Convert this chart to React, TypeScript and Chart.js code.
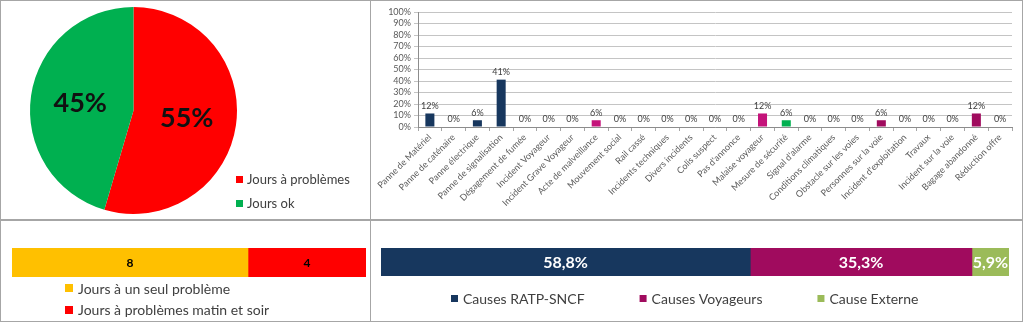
import React, { useEffect, useRef } from "react";
import { Chart, registerables } from "chart.js";

Chart.register(...registerables);

const FONT = "Lato, 'Open Sans', sans-serif";

// ---- Pie: days with / without problems (counts of days)
const pieLabels = ["Jours à problèmes", "Jours ok"];
const pieCounts = [12, 10];
const pieColors = ["#FF0000", "#00B050"];

// ---- Bar: share of incidents by cause
const causeLabels = [
  "Panne de Matériel",
  "Panne de caténaire",
  "Panne électrique",
  "Panne de signalisation",
  "Dégagement de fumée",
  "Incident Voyageur",
  "Incident Grave Voyageur",
  "Acte de malveillance",
  "Mouvement social",
  "Rail cassé",
  "Incidents techniques",
  "Divers incidents",
  "Colis suspect",
  "Pas d'annonce",
  "Malaise voyageur",
  "Mesure de sécurité",
  "Signal d'alarme",
  "Conditions climatiques",
  "Obstacle sur les voies",
  "Personnes sur la voie",
  "Incident d'exploitation",
  "Travaux",
  "Incident sur la voie",
  "Bagage abandonné",
  "Réduction offre",
];
const causeShares = [
  0.1176, 0, 0.0588, 0.4118, 0, 0, 0, 0.0588, 0, 0, 0, 0, 0, 0, 0.1176, 0.0588,
  0, 0, 0, 0.0588, 0, 0, 0, 0.1176, 0,
];
const NAVY = "#17375E";
const PINK = "#C4137A";
const PLUM = "#A00B5E";
const GREEN = "#00B050";
const causeColors = [
  NAVY, NAVY, NAVY, NAVY, NAVY, NAVY, NAVY, PINK, NAVY, NAVY, NAVY, NAVY, NAVY,
  NAVY, PINK, GREEN, NAVY, NAVY, NAVY, PLUM, NAVY, NAVY, NAVY, PLUM, NAVY,
];

// ---- Stacked bar: problem days split
const splitLabels = ["Jours à un seul problème", "Jours à problèmes matin et soir"];
const splitValues = [8, 4];
const splitColors = ["#FFC000", "#FF0000"];

// ---- Stacked bar: cause groups (%)
const groupLabels = ["Causes RATP-SNCF", "Causes Voyageurs", "Cause Externe"];
const groupValues = [58.8, 35.3, 5.9];
const groupColors = ["#17375E", "#A00B5E", "#9BBB59"];

const sum = (a: number[]) => a.reduce((s, v) => s + v, 0);

const valueLabels = {
  id: "valueLabels",
  afterDatasetsDraw(chart: any, _args: any, o: any) {
    const ctx = chart.ctx as CanvasRenderingContext2D;
    ctx.save();
    ctx.font = `${o.weight || "normal"} ${o.size}px ${FONT}`;
    ctx.fillStyle = o.color;
    ctx.textAlign = "center";
    chart.data.datasets.forEach((ds: any, di: number) => {
      const meta = chart.getDatasetMeta(di);
      const total = sum(ds.data as number[]);
      meta.data.forEach((el: any, i: number) => {
        const v = ds.data[i] as number;
        let text = String(v);
        if (o.format === "fraction") text = Math.round(v * 100) + "%";
        else if (o.format === "share") text = Math.round((v / total) * 100) + "%";
        else if (o.format === "comma") text = v.toFixed(1).replace(".", ",") + "%";
        if (o.mode === "arc") {
          const p = el.getProps(["x", "y", "startAngle", "endAngle", "outerRadius"], true);
          const a = (p.startAngle + p.endAngle) / 2;
          ctx.textBaseline = "middle";
          ctx.fillText(
            text,
            p.x + Math.cos(a) * p.outerRadius * o.radius,
            p.y + Math.sin(a) * p.outerRadius * o.radius
          );
        } else if (o.mode === "center") {
          const p = el.getProps(["x", "y", "base"], true);
          ctx.textBaseline = "middle";
          ctx.fillText(text, (p.x + p.base) / 2, p.y + 1);
        } else {
          const p = el.getProps(["x", "y"], true);
          ctx.textBaseline = "bottom";
          ctx.fillText(text, p.x, p.y - o.offset);
        }
      });
    });
    ctx.restore();
  },
};

const boxLegend = {
  id: "boxLegend",
  afterDraw(chart: any, _args: any, o: any) {
    const ctx = chart.ctx as CanvasRenderingContext2D;
    let items: { text: string; color: string }[] = [];
    if (o.source === "labels") {
      const ds = chart.data.datasets[0];
      items = chart.data.labels.map((l: string, i: number) => ({
        text: l,
        color: ds.backgroundColor[i],
      }));
    } else {
      items = chart.data.datasets.map((ds: any) => ({
        text: ds.label,
        color: ds.backgroundColor,
      }));
    }
    ctx.save();
    ctx.font = `${o.size}px ${FONT}`;
    ctx.textAlign = "left";
    ctx.textBaseline = "middle";
    let x = o.x;
    let y = o.y;
    items.forEach((it) => {
      ctx.fillStyle = it.color;
      ctx.fillRect(x, Math.round(y - o.box / 2), o.box, o.box);
      ctx.fillStyle = o.color;
      ctx.fillText(it.text, x + o.box + o.textGap, y + 1);
      if (o.direction === "row") {
        x += o.box + o.textGap + ctx.measureText(it.text).width + o.gap;
      } else {
        y += o.step;
      }
    });
    ctx.restore();
  },
};

function pieConfig(): any {
  return {
    type: "pie",
    data: {
      labels: pieLabels,
      datasets: [{ data: pieCounts, backgroundColor: pieColors, borderWidth: 0 }],
    },
    plugins: [valueLabels, boxLegend],
    options: {
      animation: false,
      responsive: false,
      layout: { padding: { left: 29, right: 133, top: 6, bottom: 5 } },
      plugins: {
        legend: { display: false },
        tooltip: { enabled: false },
        valueLabels: {
          mode: "arc",
          radius: 0.52,
          format: "share",
          size: 27,
          weight: "bold",
          color: "#111111",
        },
        boxLegend: {
          source: "labels",
          direction: "column",
          x: 235,
          y: 178,
          step: 24,
          box: 7,
          textGap: 4,
          size: 13,
          color: "#404040",
        },
      },
    },
  };
}

function causeConfig(): any {
  const tickFont = { family: FONT, size: 9 };
  return {
    type: "bar",
    data: {
      labels: causeLabels,
      datasets: [
        {
          data: causeShares,
          backgroundColor: causeColors,
          barPercentage: 0.38,
          categoryPercentage: 1,
        },
      ],
    },
    plugins: [valueLabels],
    options: {
      animation: false,
      responsive: false,
      layout: { padding: { left: 0, right: 10, top: 11, bottom: 0 } },
      plugins: {
        legend: { display: false },
        tooltip: { enabled: false },
        valueLabels: { mode: "top", offset: 3, format: "fraction", size: 9, color: "#404040" },
      },
      scales: {
        x: {
          grid: { offset: true, drawOnChartArea: false, tickLength: 4, color: "#a6a6a6" },
          border: { color: "#8c8c8c" },
          ticks: {
            autoSkip: false,
            maxRotation: 45,
            minRotation: 45,
            font: tickFont,
            color: "#595959",
            padding: 1,
          },
          afterFit: (s: any) => {
            s.height = 92;
          },
        },
        y: {
          min: 0,
          max: 1,
          grid: { color: "#c4c4c4", tickLength: 4 },
          border: { color: "#8c8c8c" },
          ticks: {
            stepSize: 0.1,
            autoSkip: false,
            font: tickFont,
            color: "#595959",
            padding: 3,
            callback: (v: number) => Math.round(v * 100) + "%",
          },
          afterFit: (s: any) => {
            s.width = 47;
          },
        },
      },
    },
  };
}

function stackConfig(
  labels: string[],
  values: number[],
  colors: string[],
  pad: any,
  labelOpts: any,
  legendOpts: any
): any {
  return {
    type: "bar",
    data: {
      labels: [""],
      datasets: values.map((v, i) => ({
        label: labels[i],
        data: [v],
        backgroundColor: colors[i],
        borderWidth: 0,
        barPercentage: 1,
        categoryPercentage: 1,
      })),
    },
    plugins: [valueLabels, boxLegend],
    options: {
      animation: false,
      responsive: false,
      indexAxis: "y",
      layout: { padding: pad },
      plugins: {
        legend: { display: false },
        tooltip: { enabled: false },
        valueLabels: { mode: "center", ...labelOpts },
        boxLegend: { source: "datasets", ...legendOpts },
      },
      scales: {
        x: { stacked: true, display: false, min: 0, max: sum(values) },
        y: { stacked: true, display: false },
      },
    },
  };
}

function ChartBox(props: { left: number; top: number; width: number; height: number; make: () => any }) {
  const ref = useRef<HTMLCanvasElement>(null);
  useEffect(() => {
    const chart = new Chart(ref.current as HTMLCanvasElement, props.make());
    return () => chart.destroy();
  }, []);
  return (
    <canvas
      ref={ref}
      width={props.width}
      height={props.height}
      style={{
        position: "absolute",
        left: props.left,
        top: props.top,
        width: props.width,
        height: props.height,
        display: "block",
      }}
    />
  );
}

const panel = (left: number, top: number, width: number, height: number): React.CSSProperties => ({
  position: "absolute",
  left,
  top,
  width,
  height,
  boxSizing: "border-box",
  border: "1px solid #a6a6a6",
});

export default function App() {
  useEffect(() => {
    document.body.style.margin = "0";
    document.body.style.background = "#ffffff";
  }, []);
  return (
    <div
      style={{
        position: "absolute",
        left: 0,
        top: 0,
        width: 1024,
        height: 322,
        background: "#ffffff",
        overflow: "hidden",
      }}
    >
      <div style={panel(0, 0, 371, 220)} />
      <div style={panel(370, 0, 653, 220)} />
      <div style={panel(0, 220, 371, 102)} />
      <div style={panel(370, 220, 653, 102)} />
      <ChartBox left={1} top={1} width={369} height={218} make={pieConfig} />
      <ChartBox left={371} top={1} width={651} height={218} make={causeConfig} />
      <ChartBox
        left={1}
        top={221}
        width={369}
        height={100}
        make={() =>
          stackConfig(
            splitLabels,
            splitValues,
            splitColors,
            { left: 11, right: 4, top: 27, bottom: 44 },
            { format: "raw", size: 12, weight: "bold", color: "#000000" },
            { direction: "column", x: 64, y: 67, step: 21.5, box: 8, textGap: 5, size: 14, color: "#404040" }
          )
        }
      />
      <ChartBox
        left={371}
        top={221}
        width={651}
        height={100}
        make={() =>
          stackConfig(
            groupLabels,
            groupValues,
            groupColors,
            { left: 10, right: 13, top: 27, bottom: 45 },
            { format: "comma", size: 16, weight: "bold", color: "#ffffff" },
            { direction: "row", x: 80, y: 77, gap: 55, box: 7, textGap: 5, size: 14, color: "#404040" }
          )
        }
      />
    </div>
  );
}
